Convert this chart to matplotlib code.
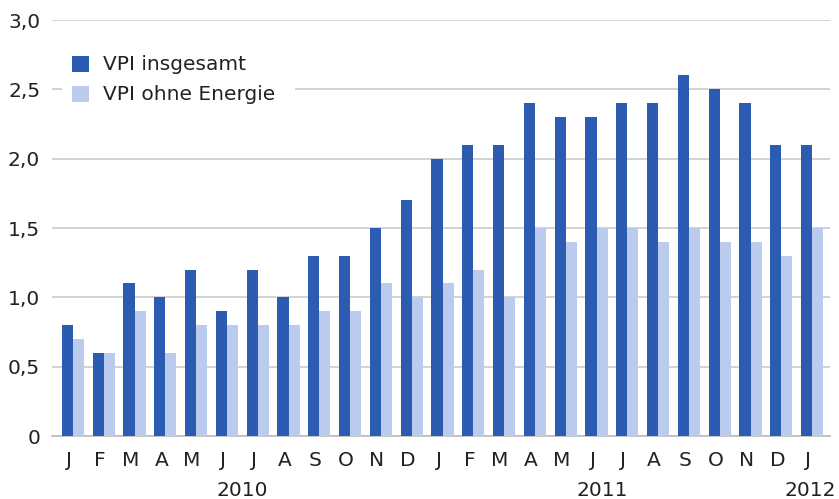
import matplotlib
matplotlib.use("Agg")
import matplotlib.pyplot as plt
import numpy as np
from matplotlib.patches import Rectangle

plt.rcParams['font.family'] = ['DejaVu Sans']

months = ["J", "F", "M", "A", "M", "J", "J", "A", "S", "O", "N", "D",
          "J", "F", "M", "A", "M", "J", "J", "A", "S", "O", "N", "D", "J"]
years = ["2010", "2011", "2012"]
vpi_total = [0.8, 0.6, 1.1, 1.0, 1.2, 0.9, 1.2, 1.0, 1.3, 1.3, 1.5, 1.7,
             2.0, 2.1, 2.1, 2.4, 2.3, 2.3, 2.4, 2.4, 2.6, 2.5, 2.4, 2.1, 2.1]
vpi_ex_energy = [0.7, 0.6, 0.9, 0.6, 0.8, 0.8, 0.8, 0.8, 0.9, 0.9, 1.1, 1.0,
                 1.1, 1.2, 1.0, 1.5, 1.4, 1.5, 1.5, 1.4, 1.5, 1.4, 1.4, 1.3, 1.5]
yticks = [0, 0.5, 1.0, 1.5, 2.0, 2.5, 3.0]
ytick_labels = ["0", "0,5", "1,0", "1,5", "2,0", "2,5", "3,0"]

dark = "#2c5bb2"
light = "#bacbee"
txt = "#222222"
fs = 14.5

fig = plt.figure(figsize=(8.39, 4.99), dpi=100)
ax = fig.add_axes([52 / 839, 63 / 499, 778 / 839, 416 / 499])

x = np.arange(len(months))
w = 0.36
ax.bar(x - w / 2, vpi_total, width=w, color=dark, zorder=3)
ax.bar(x + w / 2, vpi_ex_energy, width=w, color=light, zorder=3)

ax.set_xlim(-0.68, len(months) - 1 + 0.58)
ax.set_ylim(0, 3.0)
ax.set_yticks(yticks)
ax.set_yticklabels(ytick_labels, fontsize=fs, color=txt)
ax.yaxis.grid(True, color="#cccccc", linewidth=1.2, zorder=0)
ax.tick_params(axis="y", length=0, pad=8.5)
ax.set_xticks(x - 0.13)
ax.set_xticklabels(months, fontsize=fs, color=txt)
ax.tick_params(axis="x", length=0, pad=11)
for s in ["top", "right", "left"]:
    ax.spines[s].set_visible(False)
ax.spines["bottom"].set_color("#bbbbbb")
ax.spines["bottom"].set_linewidth(1.2)

# year labels under the month ticks
year_pos = [5.5, 17.2, 23.95]
for yp, yl in zip(year_pos, years):
    ax.text(yp, -0.39, yl, ha="center", va="center", fontsize=fs,
            color=txt, transform=ax.transData, clip_on=False)

# legend with white background covering the grid
leg_bg = Rectangle((62 / 839, 1 - 108 / 499), 233 / 839, 64 / 499,
                   transform=fig.transFigure, facecolor="white",
                   edgecolor="none", zorder=5)
fig.patches.append(leg_bg)
for i, (lab, col) in enumerate([("VPI insgesamt", dark), ("VPI ohne Energie", light)]):
    yc = 64 + i * 30
    fig.patches.append(Rectangle((72 / 839, 1 - (yc + 8) / 499), 17 / 839, 16 / 499,
                                 transform=fig.transFigure, facecolor=col,
                                 edgecolor="none", zorder=6))
    fig.text(103 / 839, 1 - yc / 499, lab, ha="left", va="center", fontsize=fs,
             color=txt, zorder=7)

fig.savefig("out.png", dpi=100)
